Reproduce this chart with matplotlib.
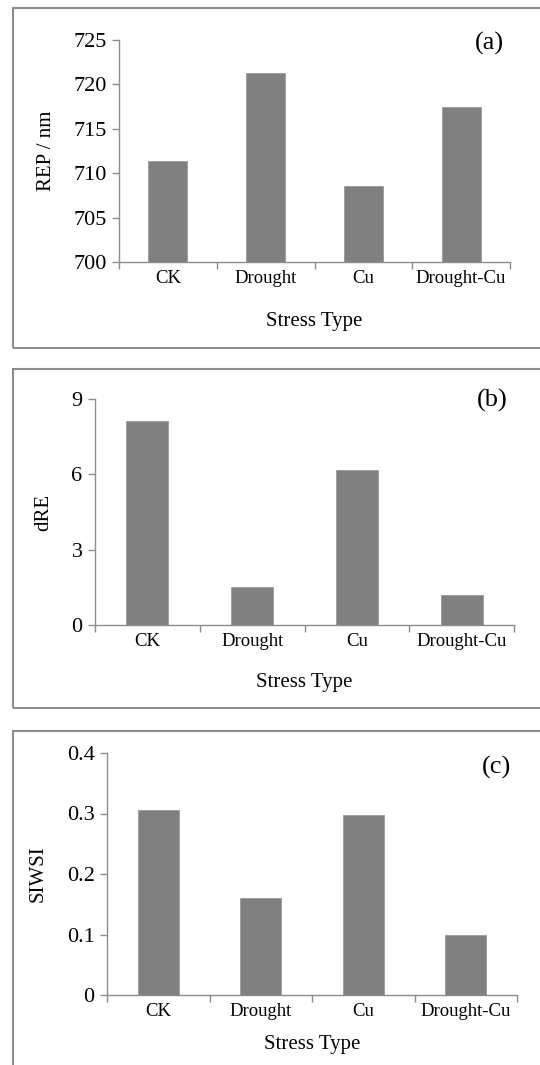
import matplotlib
matplotlib.use("Agg")
import matplotlib.pyplot as plt
from matplotlib.patches import Rectangle

plt.rcParams['font.family'] = ['Liberation Serif', 'DejaVu Serif']

categories = ["CK", "Drought", "Cu", "Drought-Cu"]
rep_values = [711.4, 721.25, 708.6, 717.5]
dre_values = [8.12, 1.50, 6.17, 1.19]
siwsi_values = [0.305, 0.161, 0.297, 0.099]

W, H = 540, 1065
fig = plt.figure(figsize=(W / 100, H / 100), dpi=100)

axis_col = '#8c8c8c'
bar_col = '#808080'


def px_axes(left, right, top, bottom):
    return fig.add_axes([left / W, 1 - bottom / H, (right - left) / W, (bottom - top) / H])


def frame(top, bottom, left=13, right=560):
    r = Rectangle((left / W, 1 - bottom / H), (right - left) / W, (bottom - top) / H,
                  transform=fig.transFigure, fill=False, edgecolor=axis_col, lw=1.5,
                  clip_on=False)
    fig.add_artist(r)


def draw_panel(ax, values, ylim, yticks, yticklabels, ylabel, tag, ylab_x, xlab_y, tag_y):
    x = range(len(categories))
    ax.bar(x, [v - ylim[0] for v in values], bottom=ylim[0], width=0.4,
           color=bar_col, edgecolor='#9a9a9a', linewidth=0.6)
    ax.set_xlim(-0.5, len(categories) - 0.5)
    ax.set_ylim(*ylim)
    for s in ['top', 'right']:
        ax.spines[s].set_visible(False)
    for s in ['left', 'bottom']:
        ax.spines[s].set_color(axis_col)
        ax.spines[s].set_linewidth(1.0)
    ax.set_yticks(yticks)
    ax.set_yticklabels(yticklabels)
    ax.set_xticks([i - 0.5 for i in range(len(categories) + 1)])
    ax.set_xticklabels([])
    ax.set_xticks(list(x), minor=True)
    ax.set_xticklabels(categories, minor=True)
    ax.tick_params(axis='x', which='major', length=5, color=axis_col, width=1.0)
    ax.tick_params(axis='x', which='minor', length=0, labelsize=13.5, pad=6)
    ax.tick_params(axis='y', length=5, color=axis_col, width=1.0, labelsize=16, pad=4)
    ax.set_ylabel(ylabel, fontsize=15)
    ax.yaxis.set_label_coords(ylab_x, 0.5)
    ax.set_xlabel("Stress Type", fontsize=15)
    ax.xaxis.set_label_coords(0.5, xlab_y)
    ax.text(0.985, tag_y, tag, transform=ax.transAxes, fontsize=19,
            ha='right', va='center')


frame(8, 348)
ax1 = px_axes(119, 510, 40, 262)
draw_panel(ax1, rep_values, (700, 725), [700, 705, 710, 715, 720, 725],
           ["700", "705", "710", "715", "720", "725"], "REP / nm", "(a)",
           -0.16, -0.223, 0.985)

frame(369, 708)
ax2 = px_axes(95, 514, 399, 625)
draw_panel(ax2, dre_values, (0, 9), [0, 3, 6, 9],
           ["0", "3", "6", "9"], "dRE", "(b)",
           -0.099, -0.213, 0.995)

frame(731, 1090)
ax3 = px_axes(107, 517, 753, 995)
draw_panel(ax3, siwsi_values, (0, 0.4), [0, 0.1, 0.2, 0.3, 0.4],
           ["0", "0.1", "0.2", "0.3", "0.4"], "SIWSI", "(c)",
           -0.146, -0.167, 0.94)

fig.savefig("out.png", dpi=100)
